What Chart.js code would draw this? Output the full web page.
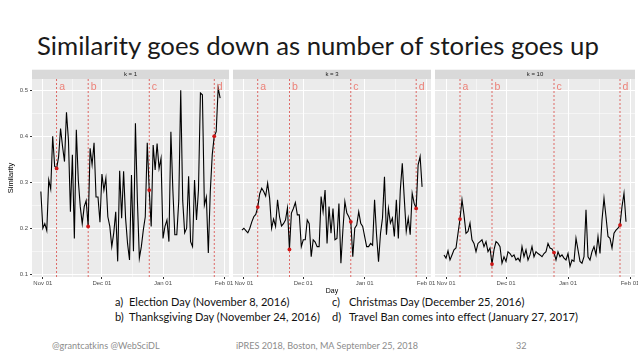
<!DOCTYPE html>
<html>
<head>
<meta charset="utf-8">
<script src="https://cdn.jsdelivr.net/npm/chart.js@4.4.0/dist/chart.umd.min.js"></script>
<style>
  body { margin: 0; background: #fff; width: 638px; height: 359px; overflow: hidden; position: relative; font-family: Lato, "Open Sans", sans-serif; }
  .box { position: absolute; }
  .t { position: absolute; white-space: nowrap; line-height: 1; }
  .leg { color: #111; }
  .foot { color: #8c8c8c; }
</style>
</head>
<body>
<div class="t" id="title" style="left:37px;color:#1a1a1a">Similarity goes down as number of stories goes up</div>

<div class="box" style="left:0;top:60px;width:236px;height:235px"><canvas id="k1"></canvas></div>
<div class="box" style="left:232px;top:60px;width:206px;height:235px"><canvas id="k3"></canvas></div>
<div class="box" style="left:434px;top:60px;width:204px;height:235px"><canvas id="k10"></canvas></div>

<div class="t leg" data-x="115" data-b="305.5">a)</div>
<div class="t leg" id="legRef" data-x="129" data-b="305.5">Election Day (November 8, 2016)</div>
<div class="t leg" data-x="332" data-b="305.5">c)</div>
<div class="t leg" data-x="349" data-b="305.5">Christmas Day (December 25, 2016)</div>
<div class="t leg" data-x="115" data-b="321">b)</div>
<div class="t leg" data-x="129" data-b="321">Thanksgiving Day (November 24, 2016)</div>
<div class="t leg" data-x="332" data-b="321">d)</div>
<div class="t leg" data-x="349" data-b="321">Travel Ban comes into effect (January 27, 2017)</div>

<div class="t foot" id="footRef" data-x="52" data-b="349">@grantcatkins @WebSciDL</div>
<div class="t foot" data-x="236" data-b="349">iPRES 2018, Boston, MA September 25, 2018</div>
<div class="t foot" data-x="516" data-b="349">32</div>

<script>
// day index 0 = Nov 01 2016; series start on Oct 31 (day -1)
const firstDay = -1;

const k1Values = [
  0.28,
  0.20, 0.21, 0.195, 0.305, 0.285, 0.40, 0.335,
  0.33,
  0.355, 0.417, 0.378, 0.345, 0.452, 0.392, 0.236, 0.36, 0.178, 0.414, 0.305, 0.247, 0.21, 0.247, 0.26,
  0.204,
  0.374, 0.338, 0.386, 0.268, 0.268, 0.213, 0.318, 0.283, 0.309, 0.225, 0.204, 0.16, 0.19, 0.236, 0.128,
  0.325, 0.222, 0.324, 0.222, 0.167, 0.131, 0.316, 0.15, 0.428, 0.26, 0.135, 0.16, 0.196, 0.225, 0.386,
  0.283,
  0.204, 0.381, 0.327, 0.384, 0.33, 0.352, 0.178, 0.204, 0.218, 0.171, 0.41, 0.283, 0.186, 0.186, 0.26,
  0.50, 0.26, 0.19, 0.20, 0.313, 0.171, 0.16, 0.305, 0.218, 0.283, 0.494, 0.49, 0.25, 0.268, 0.146, 0.28, 0.36,
  0.40,
  0.41, 0.505, 0.483
];

const k3Values = [
  0.196,
  0.20, 0.195, 0.19, 0.20, 0.214, 0.225, 0.23,
  0.246,
  0.275, 0.287, 0.28, 0.27, 0.298, 0.265, 0.20, 0.22, 0.204, 0.262, 0.225, 0.205, 0.21, 0.218, 0.244,
  0.154,
  0.233, 0.243, 0.256, 0.229, 0.229, 0.16, 0.175, 0.175, 0.218, 0.21, 0.138, 0.175, 0.17, 0.16, 0.16,
  0.269, 0.236, 0.283, 0.167, 0.247, 0.189, 0.243, 0.175, 0.178, 0.254, 0.124, 0.196, 0.258, 0.233, 0.225,
  0.214,
  0.138, 0.20, 0.207, 0.236, 0.211, 0.204, 0.182, 0.16, 0.16, 0.167, 0.163, 0.262, 0.186, 0.127, 0.189,
  0.222, 0.312, 0.186, 0.243, 0.211, 0.222, 0.182, 0.262, 0.178, 0.283, 0.341, 0.265, 0.193, 0.222, 0.186, 0.276, 0.254,
  0.243,
  0.338, 0.356, 0.29
];

const k10Values = [
  0.142,
  0.135, 0.151, 0.131, 0.142, 0.153, 0.157, 0.189,
  0.22,
  0.262, 0.229, 0.189, 0.193, 0.211, 0.175, 0.167, 0.149, 0.167, 0.171, 0.175, 0.16, 0.171, 0.149, 0.157,
  0.122,
  0.153, 0.171, 0.167, 0.16, 0.124, 0.138, 0.128, 0.149, 0.145, 0.138, 0.142, 0.131, 0.135, 0.128, 0.16,
  0.138, 0.153, 0.131, 0.142, 0.16, 0.138, 0.149, 0.145, 0.142, 0.138, 0.145, 0.149, 0.167, 0.157, 0.155,
  0.147,
  0.131, 0.149, 0.138, 0.142, 0.135, 0.131, 0.145, 0.117, 0.131, 0.128, 0.178, 0.153, 0.128, 0.124, 0.138,
  0.24, 0.138, 0.131, 0.149, 0.16, 0.142, 0.182, 0.145, 0.218, 0.265, 0.225, 0.182, 0.178, 0.157, 0.189, 0.196, 0.20,
  0.207,
  0.247, 0.276, 0.214
];

// events: Nov 8, Nov 24, Dec 25, Jan 27
const eventDays = [7, 23, 54, 87];
const eventLetters = ['a', 'b', 'c', 'd'];

const xTickDays = [0, 30, 61, 92];
const xTickLabels = ['Nov 01', 'Dec 01', 'Jan 01', 'Feb 01'];
const xMinorDays = [15, 45.5, 76.5];
const yMajor = [0.1, 0.2, 0.3, 0.4, 0.5];
const yMinor = [0.15, 0.25, 0.35, 0.45];

const X_MIN = -5.5, X_MAX = 94.5;
const Y_MIN = 0.094, Y_MAX = 0.5245;

Chart.defaults.font.family = "'Liberation Sans', Arial, sans-serif";

const facetPlugin = {
  id: 'facet',
  beforeDraw(chart, args, opts) {
    const { ctx, chartArea: a } = chart;
    ctx.save();
    ctx.fillStyle = '#EBEBEB';
    ctx.fillRect(a.left, a.top, a.right - a.left, a.bottom - a.top);
    ctx.fillStyle = '#D9D9D9';
    ctx.fillRect(a.left, a.top - 9.3, a.right - a.left, 9.3);
    ctx.fillStyle = '#1A1A1A';
    ctx.font = "6px 'Liberation Sans'";
    ctx.textAlign = 'center';
    ctx.textBaseline = 'middle';
    ctx.fillText(opts.strip, (a.left + a.right) / 2, a.top - 4.6);
    ctx.restore();
  },
  afterDatasetsDraw(chart) {
    const { ctx, scales } = chart;
    ctx.save();
    ctx.fillStyle = 'rgba(236,110,100,0.85)';
    ctx.font = "10.5px 'Liberation Sans'";
    ctx.textAlign = 'left';
    ctx.textBaseline = 'alphabetic';
    eventDays.forEach((d, i) => {
      ctx.fillText(eventLetters[i], scales.x.getPixelForValue(d) + 2.5, scales.y.getPixelForValue(0.5) - 0.5);
    });
    ctx.restore();
  }
};

function makePanel(id, strip, values, opt) {
  const series = values.map((v, i) => ({ x: firstDay + i, y: v }));
  const vlines = eventDays.map(d => ({
    data: [{ x: d, y: Y_MIN }, { x: d, y: Y_MAX }],
    borderColor: 'rgba(214,45,40,0.85)',
    borderWidth: 0.8,
    borderDash: [2, 2],
    pointRadius: 0,
    order: 2
  }));

  return new Chart(document.getElementById(id), {
    type: 'line',
    data: {
      datasets: [{
        data: series,
        borderColor: '#000',
        borderWidth: 1.1,
        tension: 0,
        pointRadius: ctx => eventDays.includes(ctx.raw.x) ? 1.9 : 0,
        pointBackgroundColor: '#D01515',
        pointBorderWidth: 0,
        order: 1
      }, ...vlines]
    },
    plugins: [facetPlugin],
    options: {
      responsive: true,
      maintainAspectRatio: false,
      animation: false,
      layout: { padding: opt.padding },
      plugins: {
        legend: { display: false },
        tooltip: { enabled: false },
        facet: { strip: strip }
      },
      scales: {
        x: {
          type: 'linear',
          min: X_MIN,
          max: X_MAX,
          afterBuildTicks: s => { s.ticks = [...xTickDays, ...xMinorDays].sort((a, b) => a - b).map(v => ({ value: v })); },
          afterFit: s => { s.height = 18; s.paddingLeft = 0; s.paddingRight = 0; },
          border: { display: false },
          grid: {
            color: '#FFFFFF',
            lineWidth: c => xTickDays.includes(c.tick.value) ? 1 : 0.5,
            tickLength: 2,
            tickColor: c => xTickDays.includes(c.tick.value) ? '#333333' : 'rgba(0,0,0,0)'
          },
          ticks: {
            autoSkip: false,
            maxRotation: 0,
            padding: 1,
            color: '#4D4D4D',
            font: { size: 6 },
            callback: v => { const i = xTickDays.indexOf(v); return i >= 0 ? xTickLabels[i] : ''; }
          },
          title: {
            display: opt.xTitle,
            text: 'Day',
            color: '#000',
            font: { size: 7 },
            padding: { top: 0, bottom: 0 }
          }
        },
        y: {
          min: Y_MIN,
          max: Y_MAX,
          afterBuildTicks: s => { s.ticks = [...yMajor, ...yMinor].sort((a, b) => a - b).map(v => ({ value: v })); },
          afterFit: s => { s.width = opt.yWidth; s.paddingTop = 0; s.paddingBottom = 0; },
          border: { display: false },
          grid: {
            color: '#FFFFFF',
            lineWidth: c => yMajor.includes(c.tick.value) ? 1 : 0.5,
            drawTicks: opt.yLabels,
            tickLength: 2,
            tickColor: c => yMajor.includes(c.tick.value) ? '#333333' : 'rgba(0,0,0,0)'
          },
          ticks: {
            display: opt.yLabels,
            padding: 2,
            color: '#4D4D4D',
            font: { size: 6 },
            callback: v => yMajor.includes(v) ? v.toFixed(1) : ''
          },
          title: {
            display: opt.yLabels,
            text: 'Similarity',
            color: '#000',
            font: { size: 7.5 },
            padding: { top: 6.5, bottom: 0 }
          }
        }
      }
    }
  });
}

makePanel('k1', 'k = 1', k1Values, { padding: { left: 0, right: 7, top: 19, bottom: 0 }, yWidth: 32, yLabels: true, xTitle: false });
makePanel('k3', 'k = 3', k3Values, { padding: { left: 1, right: 7, top: 19, bottom: 0 }, yWidth: 0, yLabels: false, xTitle: true });
makePanel('k10', 'k = 10', k10Values, { padding: { left: 1, right: 3, top: 19, bottom: 0 }, yWidth: 0, yLabels: false, xTitle: false });

// text sizing: fit a reference span to its measured width, place by baseline
function fitSize(el, target, start) {
  el.style.fontSize = start + 'px';
  return start * target / el.offsetWidth;
}
function place(el, fs) {
  el.style.fontSize = fs + 'px';
  el.style.left = el.dataset.x + 'px';
  el.style.top = (parseFloat(el.dataset.b) - 0.887 * fs) + 'px';
}
const title = document.getElementById('title');
const tfs = fitSize(title, 562, 26);
title.style.fontSize = tfs + 'px';
title.style.top = (56 - 0.887 * tfs) + 'px';

const lfs = fitSize(document.getElementById('legRef'), 161, 12);
document.querySelectorAll('.leg').forEach(el => place(el, lfs));
const ffs = fitSize(document.getElementById('footRef'), 108, 9);
document.querySelectorAll('.foot').forEach(el => place(el, ffs));
</script>
</body>
</html>
